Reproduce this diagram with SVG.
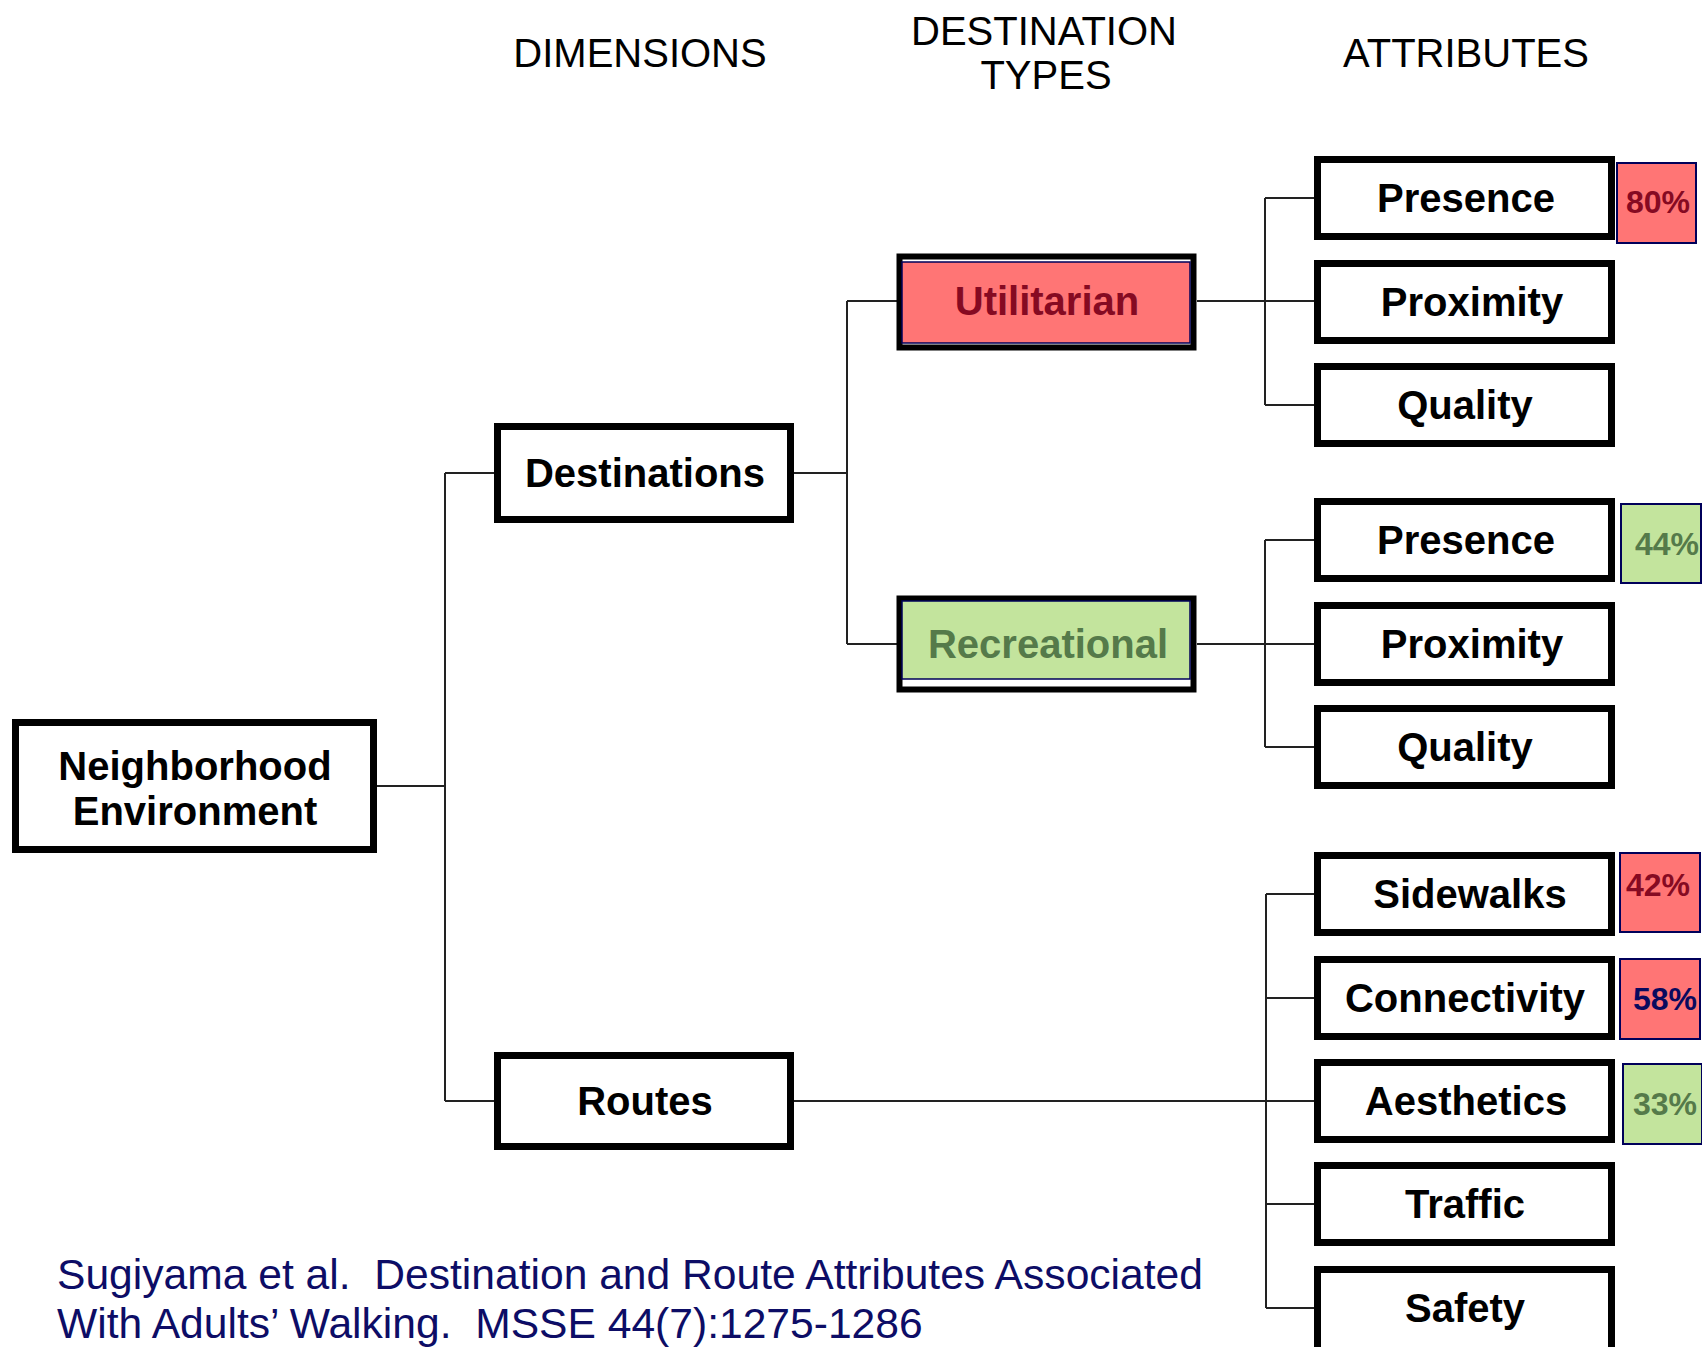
<svg xmlns="http://www.w3.org/2000/svg" width="1702" height="1347" viewBox="0 0 1702 1347">
<style>
.hdr{font-family:"Liberation Sans",Arial,sans-serif;font-size:40px;fill:#000;text-anchor:middle}
.box{fill:#fff;stroke:#000;stroke-width:7}
.lbl{font-family:"Liberation Sans",Arial,sans-serif;font-size:40px;font-weight:bold;fill:#000;text-anchor:middle}
.pct{font-family:"Liberation Sans",Arial,sans-serif;font-size:32px;font-weight:bold;text-anchor:middle}
.pink{fill:#FF7575;stroke:#00005A;stroke-width:2}
.green{fill:#C3E49D;stroke:#00005A;stroke-width:2}
.red{fill:#860A22}
.navy{fill:#0A0A5E}
.grn{fill:#557A4A}
.conn{fill:none;stroke:#222;stroke-width:2}
.cite{font-family:"Liberation Sans",Arial,sans-serif;font-size:42.6px;fill:#0D0D66;white-space:pre}
</style>

<g id="headers">
<text class="hdr" x="640" y="67">DIMENSIONS</text>
<text class="hdr" x="1044" y="45">DESTINATION</text>
<text class="hdr" x="1046" y="89">TYPES</text>
<text class="hdr" x="1466" y="67">ATTRIBUTES</text>
</g>

<g id="connectors">
<path class="conn" d="M377,786 H445 M445,473 V1101 M445,473 H495 M445,1101 H495"/>
<path class="conn" d="M792,473 H847 M847,301 V644 M847,301 H897 M847,644 H897"/>
<path class="conn" d="M1197,301 H1315 M1265,198 V405 M1265,198 H1315 M1265,405 H1315"/>
<path class="conn" d="M1197,644 H1315 M1265,540 V747 M1265,540 H1315 M1265,747 H1315"/>
<path class="conn" d="M792,1101 H1315 M1266,894 V1308 M1266,894 H1315 M1266,998 H1315 M1266,1204 H1315 M1266,1308 H1315"/>
</g>

<g id="neighborhood">
<rect class="box" x="15.5" y="722.5" width="358" height="127"/>
<text class="lbl" x="195" y="780">Neighborhood</text>
<text class="lbl" x="195" y="825">Environment</text>
</g>

<g id="destinations">
<rect class="box" x="497.5" y="426.5" width="293" height="93"/>
<text class="lbl" x="645" y="487">Destinations</text>
</g>

<g id="routes">
<rect class="box" x="497.5" y="1055.5" width="293" height="91"/>
<text class="lbl" x="645" y="1115">Routes</text>
</g>

<g id="utilitarian">
<rect class="box" x="899.5" y="256.5" width="294" height="91" style="stroke-width:6"/>
<rect class="pink" x="902" y="262" width="288" height="81" style="stroke-width:1.5"/>
<text class="lbl red" x="1047" y="315">Utilitarian</text>
</g>

<g id="recreational">
<rect class="box" x="899.5" y="598.5" width="294" height="91" style="stroke-width:6"/>
<rect class="green" x="902" y="601" width="288" height="78" style="stroke-width:1.5"/>
<text class="lbl grn" x="1048" y="658">Recreational</text>
</g>

<g id="u-presence">
<rect class="box" x="1317.5" y="159.5" width="294" height="77"/>
<text class="lbl" x="1466" y="212">Presence</text>
</g>
<g id="u-proximity">
<rect class="box" x="1317.5" y="263.5" width="294" height="77"/>
<text class="lbl" x="1472" y="316">Proximity</text>
</g>
<g id="u-quality">
<rect class="box" x="1317.5" y="366.5" width="294" height="77"/>
<text class="lbl" x="1465" y="419">Quality</text>
</g>

<g id="r-presence">
<rect class="box" x="1317.5" y="501.5" width="294" height="77"/>
<text class="lbl" x="1466" y="554">Presence</text>
</g>
<g id="r-proximity">
<rect class="box" x="1317.5" y="605.5" width="294" height="77"/>
<text class="lbl" x="1472" y="658">Proximity</text>
</g>
<g id="r-quality">
<rect class="box" x="1317.5" y="708.5" width="294" height="77"/>
<text class="lbl" x="1465" y="761">Quality</text>
</g>

<g id="sidewalks">
<rect class="box" x="1317.5" y="855.5" width="294" height="77"/>
<text class="lbl" x="1470" y="908">Sidewalks</text>
</g>
<g id="connectivity">
<rect class="box" x="1317.5" y="959.5" width="294" height="77"/>
<text class="lbl" x="1465" y="1012">Connectivity</text>
</g>
<g id="aesthetics">
<rect class="box" x="1317.5" y="1062.5" width="294" height="77"/>
<text class="lbl" x="1466" y="1115">Aesthetics</text>
</g>
<g id="traffic">
<rect class="box" x="1317.5" y="1165.5" width="294" height="77"/>
<text class="lbl" x="1465" y="1218">Traffic</text>
</g>
<g id="safety">
<rect class="box" x="1317.5" y="1269.5" width="294" height="90"/>
<text class="lbl" x="1465" y="1322">Safety</text>
</g>

<g id="pct-80">
<rect class="pink" x="1617" y="163" width="79" height="80"/>
<text class="pct red" x="1658" y="213">80%</text>
</g>
<g id="pct-44">
<rect class="green" x="1621" y="504" width="80" height="79"/>
<text class="pct grn" x="1667" y="555">44%</text>
</g>
<g id="pct-42">
<rect class="pink" x="1620" y="853" width="80" height="79"/>
<text class="pct red" x="1658" y="896">42%</text>
</g>
<g id="pct-58">
<rect class="pink" x="1620" y="959" width="80" height="80"/>
<text class="pct navy" x="1665" y="1010">58%</text>
</g>
<g id="pct-33">
<rect class="green" x="1623" y="1064" width="79" height="80"/>
<text class="pct grn" x="1665" y="1115">33%</text>
</g>

<g id="citation">
<text class="cite" x="57" y="1289" xml:space="preserve">Sugiyama et al.  Destination and Route Attributes Associated</text>
<text class="cite" x="57" y="1338" xml:space="preserve">With Adults’ Walking.  MSSE 44(7):1275-1286</text>
</g>
</svg>
